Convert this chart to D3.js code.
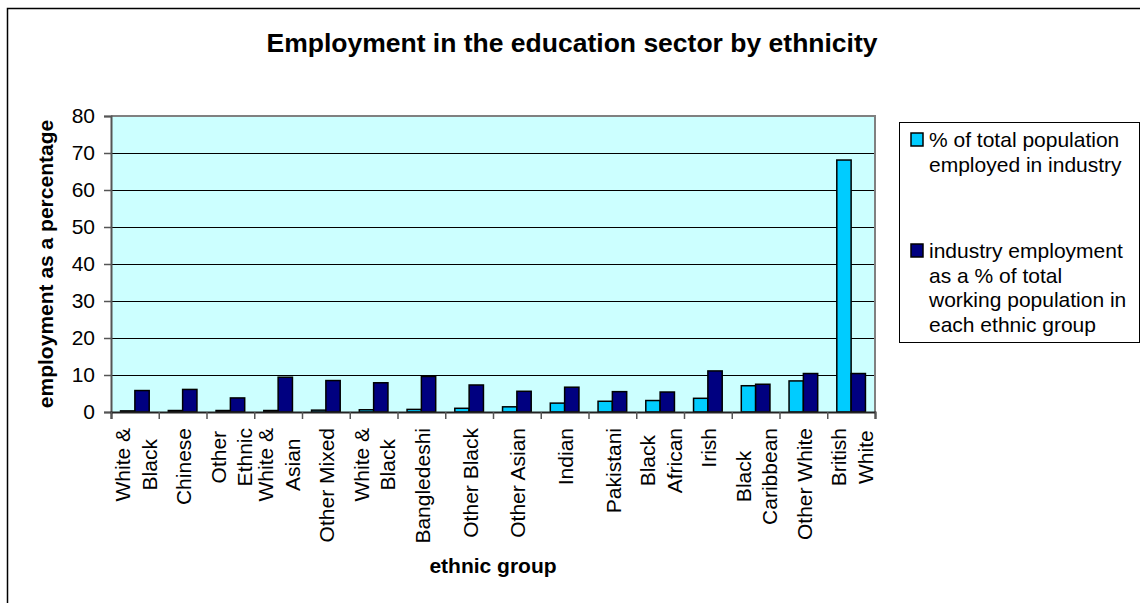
<!DOCTYPE html>
<html>
<head>
<meta charset="utf-8">
<script src="https://cdn.jsdelivr.net/npm/d3@7"></script>
<style>
  body { margin: 0; background: #fff; }
  svg { display: block; font-family: "Liberation Sans", Arial, sans-serif; }
</style>
</head>
<body>
<div id="chart"></div>
<script>
// categories ("\n" marks where the tick label wraps)
const categories = [
  "White &\nBlack", "Chinese", "Other\nEthnic", "White &\nAsian", "Other Mixed",
  "White &\nBlack", "Bangledeshi", "Other Black", "Other Asian", "Indian",
  "Pakistani", "Black\nAfrican", "Irish", "Black\nCaribbean", "Other White",
  "British\nWhite"
];
const seriesNames = [
  "% of total population employed in industry",
  "industry employment as a % of total working population in each ethnic group"
];
// % of total population employed in industry
const pctOfPopulation = [0.3, 0.4, 0.4, 0.4, 0.5, 0.6, 0.7, 1.0, 1.4, 2.4, 2.9, 3.1, 3.7, 7.1, 8.4, 68.1];
// industry employment as a % of the group's working population
const pctOfGroup = [5.8, 6.1, 3.8, 9.4, 8.5, 7.9, 9.6, 7.3, 5.6, 6.7, 5.5, 5.4, 11.1, 7.5, 10.4, 10.4];
const yTicks = [0, 10, 20, 30, 40, 50, 60, 70, 80];

const width = 1140;
const height = 603;
const plot = { left: 111, right: 875, top: 116, bottom: 412 };
const colors = ["#00CCFF", "#000080"];

const svg = d3
  .select("#chart")
  .append("svg")
  .attr("width", width)
  .attr("height", height);

// outer chart frame (only left and top edges fall inside the picture)
svg
  .append("rect")
  .attr("x", 7.5)
  .attr("y", 8.5)
  .attr("width", 1300)
  .attr("height", 800)
  .attr("fill", "#fff")
  .attr("stroke", "#000")
  .attr("stroke-width", 1.5);

// title
svg
  .append("text")
  .attr("x", 572)
  .attr("y", 52)
  .attr("text-anchor", "middle")
  .style("font-weight", "bold")
  .style("font-size", "26.5px")
  .text("Employment in the education sector by ethnicity");

// scales
const idx = d3.range(categories.length);
const x0 = d3
  .scaleBand()
  .domain(idx)
  .range([plot.left, plot.right])
  .paddingInner(0.4)
  .paddingOuter(0.2);
const x1 = d3.scaleBand().domain([0, 1]).range([0, x0.bandwidth()]);
const xEdge = d3
  .scaleLinear()
  .domain([0, categories.length])
  .range([plot.left, plot.right]);
const y = d3.scaleLinear().domain([0, 80]).range([plot.bottom, plot.top]);

// plot area
svg
  .append("rect")
  .attr("x", plot.left)
  .attr("y", plot.top)
  .attr("width", plot.right - plot.left)
  .attr("height", plot.bottom - plot.top)
  .attr("fill", "#CCFFFF");

// gridlines
svg
  .append("g")
  .selectAll("line")
  .data(yTicks.filter((d) => d > 0 && d < 80))
  .enter()
  .append("line")
  .attr("x1", plot.left)
  .attr("x2", plot.right)
  .attr("y1", (d) => y(d) + 0.5)
  .attr("y2", (d) => y(d) + 0.5)
  .attr("stroke", "#000")
  .attr("stroke-width", 1);

// top and right border of the plot area
svg
  .append("path")
  .attr("d", `M${plot.left},${plot.top}H${plot.right}V${plot.bottom}`)
  .attr("fill", "none")
  .attr("stroke", "#808080")
  .attr("stroke-width", 2);

// bars
const series = [pctOfPopulation, pctOfGroup];
svg
  .append("g")
  .selectAll("g")
  .data(series)
  .enter()
  .append("g")
  .attr("fill", (d, i) => colors[i])
  .each(function (values, s) {
    d3.select(this)
      .selectAll("rect")
      .data(values)
      .enter()
      .append("rect")
      .attr("x", (d, i) => x0(i) + x1(s))
      .attr("y", (d) => y(d))
      .attr("width", x1.bandwidth())
      .attr("height", (d) => y(0) - y(d))
      .attr("stroke", "#000")
      .attr("stroke-width", 1.5);
  });

// y axis
const yAxis = svg
  .append("g")
  .attr("transform", `translate(${plot.left},0)`)
  .call(d3.axisLeft(y).tickValues(yTicks).tickSize(7).tickPadding(9));
yAxis.select(".domain").attr("stroke", "#555").attr("stroke-width", 2);
yAxis.selectAll(".tick line").attr("stroke", "#555").attr("stroke-width", 1.5);
yAxis
  .selectAll(".tick text")
  .style("font-size", "21px")
  .style("font-family", "Liberation Sans, Arial, sans-serif")
  .attr("fill", "#000");

// x axis: ticks sit on category boundaries
const xAxis = svg
  .append("g")
  .attr("transform", `translate(0,${plot.bottom})`)
  .call(
    d3
      .axisBottom(xEdge)
      .tickValues(d3.range(categories.length + 1))
      .tickSize(7)
      .tickFormat("")
  );
xAxis.select(".domain").attr("stroke", "#222").attr("stroke-width", 2);
xAxis.selectAll(".tick line").attr("stroke", "#555").attr("stroke-width", 1.5);

// category labels, rotated, top-aligned, wrapped lines centred on each other
const labelTop = 428;
const lineGap = 26.5;
const labels = svg
  .append("g")
  .style("font-size", "21px")
  .selectAll("g")
  .data(categories)
  .enter()
  .append("g");
labels.each(function (name, i) {
  const lines = name.split("\n");
  const g = d3.select(this);
  const cx = x0(i) + x0.bandwidth() / 2;
  const texts = lines.map((line, k) =>
    g
      .append("text")
      .attr("text-anchor", "middle")
      .attr("dominant-baseline", "central")
      .text(line)
      .datum(k)
  );
  const maxLen = d3.max(texts, (t) => t.node().getComputedTextLength());
  texts.forEach((t, k) => {
    const tx = cx + (k - (lines.length - 1) / 2) * lineGap + 1;
    const ty = labelTop + maxLen / 2;
    t.attr("transform", `translate(${tx},${ty}) rotate(-90)`);
  });
});

// axis titles
svg
  .append("text")
  .attr("transform", `translate(53,264) rotate(-90)`)
  .attr("text-anchor", "middle")
  .style("font-weight", "bold")
  .style("font-size", "21px")
  .text("employment as a percentage");

svg
  .append("text")
  .attr("x", (plot.left + plot.right) / 2)
  .attr("y", 573)
  .attr("text-anchor", "middle")
  .style("font-weight", "bold")
  .style("font-size", "21px")
  .text("ethnic group");

// legend
const legend = svg.append("g");
legend
  .append("rect")
  .attr("x", 899.5)
  .attr("y", 122.5)
  .attr("width", 240)
  .attr("height", 220)
  .attr("fill", "#fff")
  .attr("stroke", "#000")
  .attr("stroke-width", 1);

const legendLines = [
  ["% of total population", "employed in industry"],
  ["industry employment", "as a % of total", "working population in", "each ethnic group"]
];
const legendBaseline = [147, 258];
legendLines.forEach((lines, s) => {
  legend
    .append("rect")
    .attr("x", 911)
    .attr("y", legendBaseline[s] - 14)
    .attr("width", 12)
    .attr("height", 13)
    .attr("fill", colors[s])
    .attr("stroke", "#000")
    .attr("stroke-width", 1.5)
    .append("title")
    .text(seriesNames[s]);
  legend
    .append("text")
    .style("font-size", "21px")
    .selectAll("tspan")
    .data(lines)
    .enter()
    .append("tspan")
    .attr("x", 929)
    .attr("y", (d, k) => legendBaseline[s] + k * 24.5)
    .text((d) => d);
});
</script>
</body>
</html>
